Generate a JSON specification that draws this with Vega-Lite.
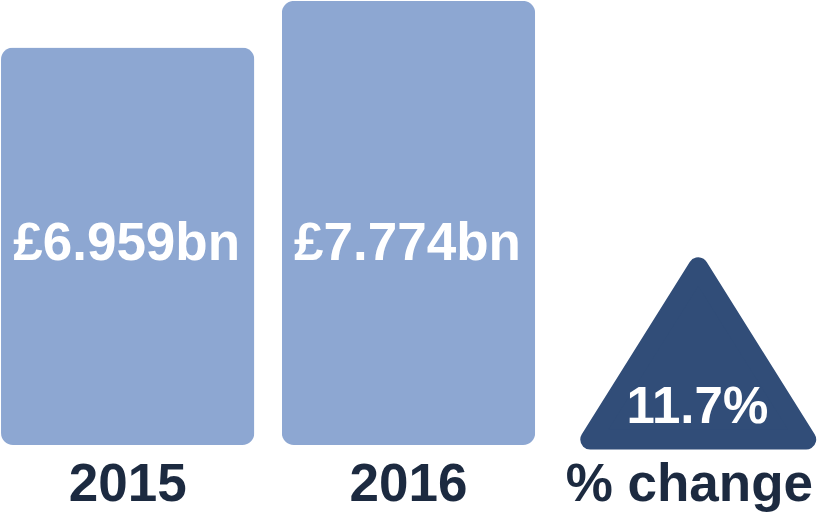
{
  "$schema": "https://vega.github.io/schema/vega-lite/v6.json",
  "width": 817,
  "height": 445,
  "autosize": {"type": "none"},
  "padding": {"top": 0, "left": 0, "right": 0, "bottom": 76},
  "background": "white",
  "config": {"view": {"stroke": null}},
  "data": {
    "values": [
      {"cat": "2015", "value": 6.959, "label": "£6.959bn", "kind": "bar"},
      {"cat": "2016", "value": 7.774, "label": "£7.774bn", "kind": "bar"},
      {"cat": "% change", "value": 11.7, "label": "11.7%", "kind": "change"}
    ]
  },
  "encoding": {
    "x": {
      "field": "cat",
      "type": "nominal",
      "sort": ["2015", "2016", "% change"],
      "scale": {"paddingInner": 0.098, "paddingOuter": 0.0036},
      "axis": {
        "title": null,
        "labelAngle": 0,
        "domain": false,
        "ticks": false,
        "tickSize": 0,
        "labelPadding": 13,
        "labelLimit": 0,
        "labelOverlap": false,
        "labelFont": "Liberation Sans",
        "labelFontSize": 53,
        "labelFontWeight": "bold",
        "labelColor": "#1c2a40",
        "labelBaseline": "top"
      }
    }
  },
  "layer": [
    {
      "transform": [{"filter": "datum.kind === 'bar'"}],
      "mark": {"type": "bar", "color": "#8da7d2", "cornerRadius": 12},
      "encoding": {
        "y": {
          "field": "value",
          "type": "quantitative",
          "scale": {"domain": [0, 7.79], "range": [445, 0], "nice": false},
          "axis": null
        }
      }
    },
    {
      "transform": [{"filter": "datum.kind === 'bar'"}],
      "mark": {"type": "text", "color": "white", "font": "Liberation Sans", "fontSize": 53, "fontWeight": "bold", "baseline": "middle", "align": "center", "dx": -1},
      "encoding": {
        "y": {"datum": 3.52, "type": "quantitative"},
        "text": {"field": "label"}
      }
    },
    {
      "transform": [{"filter": "datum.kind === 'change'"}],
      "mark": {
        "type": "point",
        "shape": "M0.082,-1.64L1.078,-0.05L-0.914,-0.05Z",
        "size": 47000,
        "filled": true,
        "fill": "#314d78",
        "stroke": "#314d78",
        "strokeWidth": 20,
        "strokeJoin": "round",
        "opacity": 1
      },
      "encoding": {
        "y": {"datum": 0, "type": "quantitative"}
      }
    },
    {
      "transform": [{"filter": "datum.kind === 'change'"}],
      "mark": {"type": "text", "color": "white", "font": "Liberation Sans", "fontSize": 51, "fontWeight": "bold", "baseline": "middle", "align": "center", "dx": 8},
      "encoding": {
        "y": {"datum": 0.648, "type": "quantitative"},
        "text": {"field": "label"}
      }
    }
  ]
}
